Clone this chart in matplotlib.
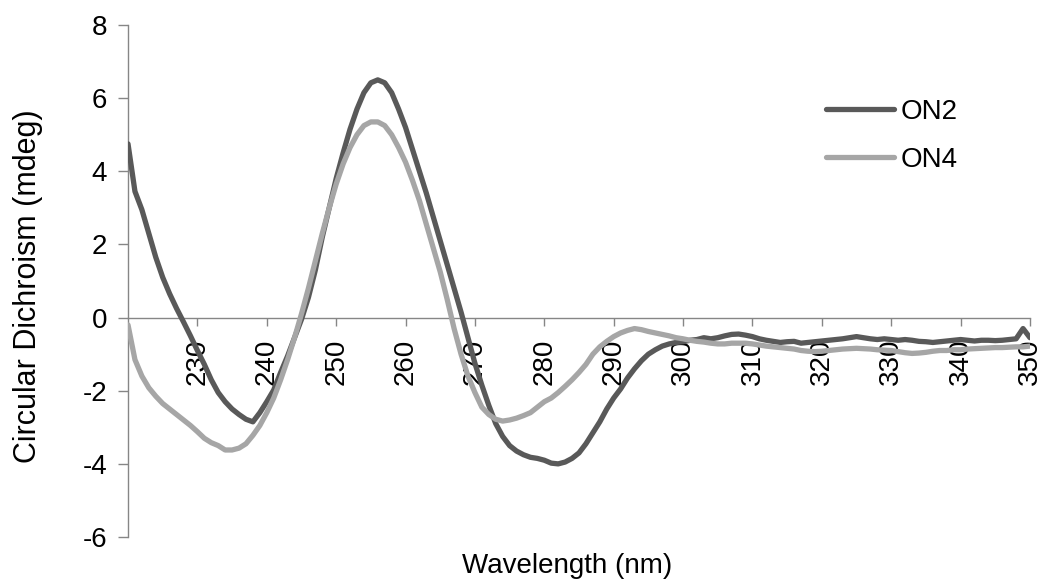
import matplotlib

matplotlib.use("Agg")
import matplotlib.pyplot as plt

plt.rcParams["font.family"] = ["Liberation Sans", "DejaVu Sans"]
plt.rcParams["axes.unicode_minus"] = False

AXIS_COLOR = "#868686"
ON2_COLOR = "#595959"
ON4_COLOR = "#A6A6A6"
FONT_SIZE = 20

# wavelength in nm, 1 nm steps
wavelength = list(range(220, 351))

on2 = [
    4.75, 3.45, 2.95, 2.3, 1.65, 1.1, 0.65, 0.25, -0.12, -0.5,
    -0.9, -1.28, -1.7, -2.05, -2.3, -2.5, -2.65, -2.78, -2.85, -2.6,
    -2.3, -1.98, -1.5, -1.05, -0.55, -0.05, 0.55, 1.3, 2.2, 3.0,
    3.8, 4.5, 5.15, 5.7, 6.15, 6.42, 6.5, 6.42, 6.15, 5.7,
    5.2, 4.6, 4.0, 3.4, 2.75, 2.1, 1.45, 0.8, 0.15, -0.55,
    -1.25, -1.85, -2.4, -2.9, -3.25, -3.5, -3.65, -3.75, -3.82, -3.85,
    -3.9, -3.98, -4.0, -3.95, -3.85, -3.7, -3.45, -3.15, -2.85, -2.5,
    -2.2, -1.95, -1.65, -1.4, -1.18, -1.0, -0.88, -0.78, -0.72, -0.68,
    -0.66, -0.62, -0.6, -0.55, -0.58, -0.55, -0.5, -0.46, -0.45, -0.48,
    -0.52, -0.58, -0.62, -0.65, -0.68, -0.66, -0.65, -0.7, -0.68, -0.66,
    -0.64, -0.62, -0.6, -0.58, -0.55, -0.52, -0.55, -0.58, -0.6, -0.58,
    -0.6, -0.62, -0.6, -0.62, -0.65, -0.66, -0.68, -0.66, -0.64, -0.62,
    -0.6, -0.62, -0.64, -0.62, -0.62, -0.63, -0.62, -0.6, -0.58, -0.3,
    -0.55,
]

on4 = [
    -0.2, -1.15, -1.6, -1.92, -2.15, -2.35, -2.5, -2.65, -2.8, -2.95,
    -3.12, -3.3, -3.42, -3.5, -3.62, -3.62, -3.57, -3.45, -3.22, -2.95,
    -2.6, -2.2, -1.7, -1.15, -0.55, 0.1, 0.8, 1.55, 2.3, 3.0,
    3.65, 4.2, 4.65, 5.0, 5.25, 5.35, 5.35, 5.25, 5.0, 4.65,
    4.25, 3.75, 3.2, 2.55, 1.9, 1.25, 0.5, -0.3, -1.0, -1.6,
    -2.05, -2.45, -2.65, -2.78, -2.83, -2.8, -2.75, -2.68, -2.6, -2.45,
    -2.3, -2.2, -2.05, -1.88, -1.7, -1.5, -1.28, -1.0, -0.8, -0.65,
    -0.52, -0.42, -0.35, -0.3, -0.33, -0.38, -0.42, -0.46, -0.5, -0.55,
    -0.58, -0.62, -0.65, -0.67, -0.7, -0.72, -0.72, -0.7, -0.7, -0.7,
    -0.72, -0.75, -0.78, -0.8, -0.82, -0.84, -0.86, -0.9, -0.92, -0.93,
    -0.92, -0.9, -0.88, -0.86, -0.85, -0.84, -0.85, -0.86, -0.88, -0.89,
    -0.9, -0.93, -0.96, -0.98, -0.97, -0.95, -0.92, -0.9, -0.9, -0.88,
    -0.88, -0.86, -0.85, -0.84, -0.83, -0.82, -0.82, -0.81, -0.8, -0.8,
    -0.78,
]

x_ticks = list(range(230, 351, 10))
y_ticks = list(range(-6, 9, 2))

fig = plt.figure(figsize=(10.51, 5.79), dpi=100, facecolor="white")
ax = fig.add_axes([0.1218, 0.0725, 0.8582, 0.8843])

ax.plot(wavelength, on2, color=ON2_COLOR, linewidth=3.8, label="ON2", zorder=3,
        solid_capstyle="round", solid_joinstyle="round")
ax.plot(wavelength, on4, color=ON4_COLOR, linewidth=3.8, label="ON4", zorder=3,
        solid_capstyle="round", solid_joinstyle="round")

ax.set_xlim(220, 350)
ax.set_ylim(-6, 8)

# axis styling, Excel-like: x axis crosses at y = 0
ax.spines["top"].set_visible(False)
ax.spines["right"].set_visible(False)
ax.spines["bottom"].set_position(("data", 0))
for side in ("left", "bottom"):
    ax.spines[side].set_color(AXIS_COLOR)
    ax.spines[side].set_linewidth(1.0)

ax.set_xticks(x_ticks)
ax.set_xticklabels([str(t) for t in x_ticks], rotation=90, va="top", ha="center")
ax.set_yticks(y_ticks)
ax.set_yticklabels([str(t) for t in y_ticks])
ax.tick_params(axis="x", direction="out", length=6, width=1.0, color=AXIS_COLOR,
               labelsize=FONT_SIZE, pad=9)
ax.tick_params(axis="y", direction="out", length=7, width=1.0, color=AXIS_COLOR,
               labelsize=FONT_SIZE, pad=8)

fig.text(0.027, 0.505, "Circular Dichroism (mdeg)", rotation=90, ha="center",
         va="center", fontsize=22)
fig.text(0.54, 0.011, "Wavelength (nm)", ha="center", va="baseline",
         fontsize=FONT_SIZE)

ax.legend(
    loc="upper left",
    bbox_to_anchor=(826 / 1051, 1 - 99 / 579),
    bbox_transform=fig.transFigure,
    frameon=False,
    fontsize=FONT_SIZE,
    handlelength=2.45,
    handletextpad=0.25,
    labelspacing=0.8,
    borderpad=0,
    borderaxespad=0,
)

fig.savefig("out.png", dpi=100, facecolor="white")
plt.close(fig)
